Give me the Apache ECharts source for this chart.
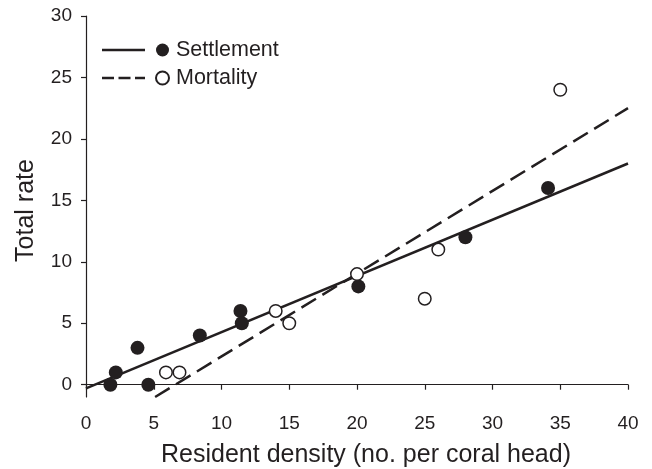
<!DOCTYPE html>
<html>
<head>
<meta charset="utf-8">
<script src="https://cdn.jsdelivr.net/npm/echarts@6/dist/echarts.min.js"></script>
<style>html,body{margin:0;padding:0;background:#fff;}#c{width:652px;height:469px;}</style>
</head>
<body>
<div id="c"></div>
<script>
// Settlement (filled circles)
const settlementX = [1.8, 2.2, 3.8, 4.6, 8.4, 11.4, 11.5, 20.1, 28.0, 34.1];
const settlementY = [0, 1, 3, 0, 4, 6, 5, 8, 12, 16];
// Mortality (open circles)
const mortalityX = [5.9, 6.9, 14.0, 15.0, 20.0, 25.0, 26.0, 35.0];
const mortalityY = [1, 1, 6, 5, 9, 7, 11, 24];
// Fitted lines (end points)
const settlementFitX = [0, 40];
const settlementFitY = [-0.3, 18.0];
const mortalityFitX = [5.1, 40];
const mortalityFitY = [-1, 22.5];
// Tick labels
const xTicks = [0, 5, 10, 15, 20, 25, 30, 35, 40];
const yTicks = [0, 5, 10, 15, 20, 25, 30];

const ink = '#231f20';
const font = '"Liberation Sans", Arial, Helvetica, sans-serif';
const zip = (a, b) => a.map((v, i) => [v, b[i]]);

const chart = echarts.init(document.getElementById('c'), null, {renderer: 'canvas'});
chart.setOption({
  animation: false,
  backgroundColor: '#fff',
  grid: {left: 86, right: 24, top: 16, bottom: 72, containLabel: false, outerBoundsMode: 'none'},
  xAxis: {
    type: 'value', min: 0, max: 40, interval: 5,
    name: 'Resident density (no. per coral head)',
    nameLocation: 'middle', nameGap: 46,
    nameTextStyle: {fontFamily: font, fontSize: 25, color: ink, padding: [0, 0, 0, 18]},
    axisLine: {show: true, lineStyle: {color: ink, width: 1.2}},
    axisTick: {show: true, inside: false, length: 5, lineStyle: {color: ink, width: 1.2}, customValues: xTicks},
    axisLabel: {fontFamily: font, fontSize: 19, color: ink, margin: 17, customValues: xTicks},
    splitLine: {show: false}
  },
  yAxis: {
    type: 'value', min: -1, max: 30,
    name: 'Total rate',
    nameLocation: 'middle', nameGap: 47, nameRotate: 90,
    nameTextStyle: {fontFamily: font, fontSize: 25, color: ink, padding: [0, 8, 0, 0]},
    axisLine: {show: true, lineStyle: {color: ink, width: 1.2}},
    axisTick: {show: true, inside: false, length: 5, lineStyle: {color: ink, width: 1.2}, customValues: yTicks},
    axisLabel: {fontFamily: font, fontSize: 19, color: ink, margin: 14, customValues: yTicks},
    splitLine: {show: false}
  },
  legend: {
    data: ['Settlement', 'Mortality'],
    orient: 'vertical', left: 155, top: 37, padding: 0,
    itemWidth: 13, itemHeight: 13, itemGap: 2,
    icon: 'circle',
    textStyle: {fontFamily: font, fontSize: 21.5, color: ink, lineHeight: 26, padding: [0, 0, 0, 2]},
    selectedMode: false
  },
  graphic: [
    {type: 'line', shape: {x1: 102, y1: 50, x2: 145, y2: 50}, style: {stroke: ink, lineWidth: 2.5}},
    {type: 'line', shape: {x1: 102, y1: 78, x2: 145, y2: 78}, style: {stroke: ink, lineWidth: 2.5, lineDash: [12, 4.5]}}
  ],
  series: [
    {
      name: 'Settlement fit', type: 'line', data: zip(settlementFitX, settlementFitY),
      showSymbol: false, symbol: 'none', lineStyle: {color: ink, width: 2.5}, z: 2, silent: true
    },
    {
      name: 'Mortality fit', type: 'line', data: zip(mortalityFitX, mortalityFitY),
      showSymbol: false, symbol: 'none', lineStyle: {color: ink, width: 2.5, type: [17, 7.5]}, z: 2, silent: true
    },
    {
      name: 'Settlement', type: 'scatter', data: zip(settlementX, settlementY),
      symbol: 'circle', symbolSize: 14,
      itemStyle: {color: ink, borderColor: ink, borderWidth: 0, opacity: 1}, z: 3
    },
    {
      name: 'Mortality', type: 'scatter', data: zip(mortalityX, mortalityY),
      symbol: 'circle', symbolSize: 12.5,
      itemStyle: {color: '#fff', borderColor: ink, borderWidth: 1.5, opacity: 1}, z: 4
    }
  ]
});
</script>
</body>
</html>
